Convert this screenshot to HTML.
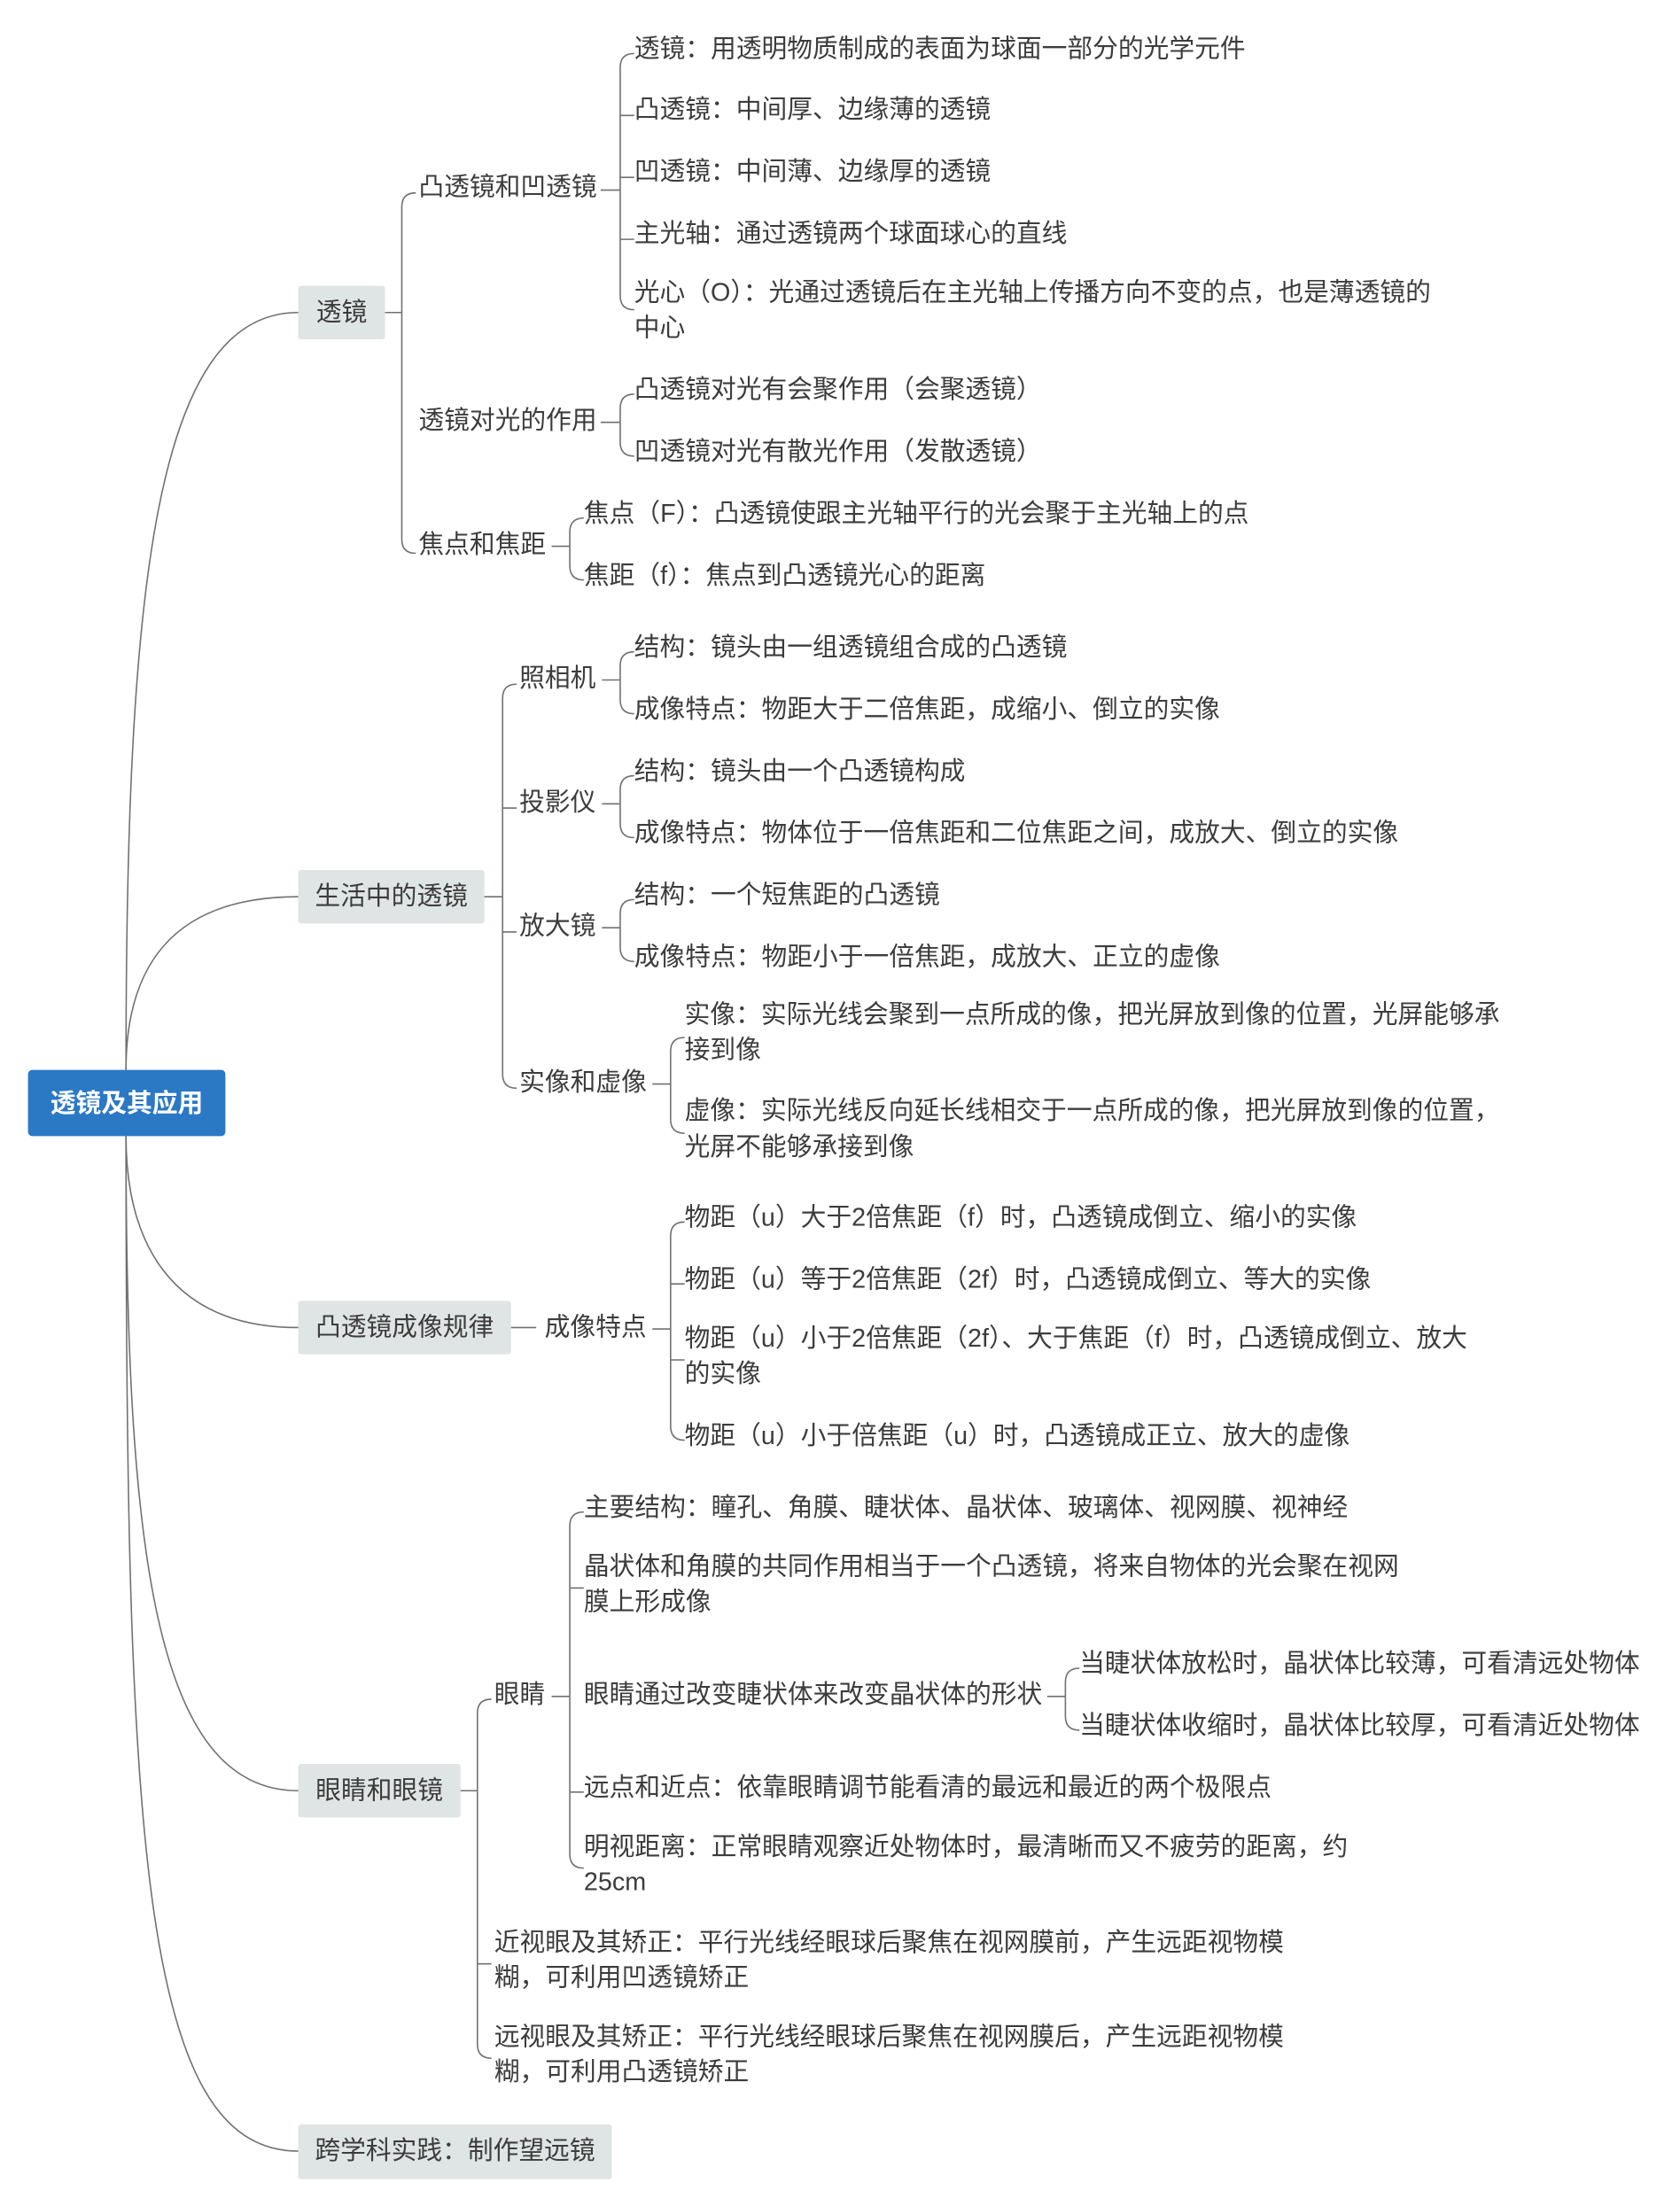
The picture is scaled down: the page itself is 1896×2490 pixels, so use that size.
<!DOCTYPE html>
<html><head><meta charset="utf-8"><style>
html,body{margin:0;padding:0;background:#fff;}
svg{display:block;}
text{font-family:"Liberation Sans","Noto Sans CJK SC",sans-serif;font-size:18.2px;fill:#3c3c3c;dominant-baseline:central;}
.l{fill:none;stroke:#707070;stroke-width:1;}
</style></head><body>
<svg width="1896" height="2490" viewBox="0 0 1200 1567" preserveAspectRatio="none" xmlns="http://www.w3.org/2000/svg">
<path class="l" d="M90,760 C90,420 110,222 213,222"/>
<path class="l" d="M90,760 C90,690 120,637 213,637"/>
<path class="l" d="M90,807 C90,880 120,943 213,943"/>
<path class="l" d="M90,807 C90,1100 110,1272 213,1272"/>
<path class="l" d="M90,807 C90,1300 100,1528 213,1528"/>

<rect x="20" y="760" width="141" height="47" rx="3" fill="#2b78c5"/>
<text x="90.5" y="784" text-anchor="middle" style="fill:#fff;font-weight:bold;font-size:18.2px">透镜及其应用</text>

<g fill="#dfe5e4">
<rect x="213" y="203" width="62" height="38" rx="2"/>
<rect x="213" y="618" width="133" height="38" rx="2"/>
<rect x="213" y="924" width="152" height="38" rx="2"/>
<rect x="213" y="1253" width="116" height="38" rx="2"/>
<rect x="213" y="1509" width="224" height="39" rx="2"/>
</g>
<text x="244" y="222" text-anchor="middle">透镜</text>
<text x="279.5" y="637" text-anchor="middle">生活中的透镜</text>
<text x="289" y="943" text-anchor="middle">凸透镜成像规律</text>
<text x="271" y="1272" text-anchor="middle">眼睛和眼镜</text>
<text x="325" y="1528" text-anchor="middle">跨学科实践：制作望远镜</text>

<path class="l" d="M275,222 H287 M297,137 Q287,137 287,147 V383 Q287,393 297,393"/>
<path class="l" d="M429,135 H443 M453,38 Q443,38 443,48 V210 Q443,220 453,220 M443,82 Q443,82 453,82 M443,126 H453 M443,170 Q443,170 453,170"/>
<path class="l" d="M429,300 H443 M453,280 Q443,280 443,290 V314 Q443,324 453,324"/>
<path class="l" d="M394,388 H407 M417,368 Q407,368 407,378 V402 Q407,412 417,412"/>
<path class="l" d="M346,637 H359 M369,486 Q359,486 359,496 V763 Q359,773 369,773 M359,574 H369 M359,662 H369"/>
<path class="l" d="M430,483 H443 M453,463 Q443,463 443,473 V497 Q443,507 453,507"/>
<path class="l" d="M430,571 H443 M453,551 Q443,551 443,561 V585 Q443,595 453,595"/>
<path class="l" d="M430,659 H443 M453,639 Q443,639 443,649 V673 Q443,683 453,683"/>
<path class="l" d="M466,770 H479 M489,737 Q479,737 479,747 V795 Q479,805 489,805"/>
<path class="l" d="M365,943 H383"/>
<path class="l" d="M466,944 H479 M489,868 Q479,868 479,878 V1013 Q479,1023 489,1023 M479,912 H489 M479,966 H489"/>
<path class="l" d="M329,1272 H341 M351,1207 Q341,1207 341,1217 V1452 Q341,1462 351,1462 M341,1395 H351"/>
<path class="l" d="M394,1205 H407 M417,1074 Q407,1074 407,1084 V1317 Q407,1327 417,1327 M407,1128 H417 M407,1273 H417"/>
<path class="l" d="M748,1205 H761 M771,1185 Q761,1185 761,1195 V1219 Q761,1229 771,1229"/>

<text x="299" y="133">凸透镜和凹透镜</text>
<text x="299" y="299">透镜对光的作用</text>
<text x="299" y="387">焦点和焦距</text>
<text x="371" y="482">照相机</text>
<text x="371" y="570">投影仪</text>
<text x="371" y="658">放大镜</text>
<text x="371" y="769">实像和虚像</text>
<text x="389" y="943">成像特点</text>
<text x="353" y="1204">眼睛</text>

<text x="453" y="35">透镜：用透明物质制成的表面为球面一部分的光学元件</text>
<text x="453" y="78">凸透镜：中间厚、边缘薄的透镜</text>
<text x="453" y="122">凹透镜：中间薄、边缘厚的透镜</text>
<text x="453" y="166">主光轴：通过透镜两个球面球心的直线</text>
<text x="453" y="208">光心（O）：光通过透镜后在主光轴上传播方向不变的点，也是薄透镜的</text>
<text x="453" y="233">中心</text>
<text x="453" y="277">凸透镜对光有会聚作用（会聚透镜）</text>
<text x="453" y="321">凹透镜对光有散光作用（发散透镜）</text>
<text x="417" y="365">焦点（F）：凸透镜使跟主光轴平行的光会聚于主光轴上的点</text>
<text x="417" y="409">焦距（f）：焦点到凸透镜光心的距离</text>

<text x="453" y="460">结构：镜头由一组透镜组合成的凸透镜</text>
<text x="453" y="504">成像特点：物距大于二倍焦距，成缩小、倒立的实像</text>
<text x="453" y="548">结构：镜头由一个凸透镜构成</text>
<text x="453" y="592">成像特点：物体位于一倍焦距和二位焦距之间，成放大、倒立的实像</text>
<text x="453" y="636">结构：一个短焦距的凸透镜</text>
<text x="453" y="680">成像特点：物距小于一倍焦距，成放大、正立的虚像</text>
<text x="489" y="721">实像：实际光线会聚到一点所成的像，把光屏放到像的位置，光屏能够承</text>
<text x="489" y="746">接到像</text>
<text x="489" y="789">虚像：实际光线反向延长线相交于一点所成的像，把光屏放到像的位置，</text>
<text x="489" y="815">光屏不能够承接到像</text>

<text x="489" y="865">物距（u）大于2倍焦距（f）时，凸透镜成倒立、缩小的实像</text>
<text x="489" y="909">物距（u）等于2倍焦距（2f）时，凸透镜成倒立、等大的实像</text>
<text x="489" y="951">物距（u）小于2倍焦距（2f）、大于焦距（f）时，凸透镜成倒立、放大</text>
<text x="489" y="976">的实像</text>
<text x="489" y="1020">物距（u）小于倍焦距（u）时，凸透镜成正立、放大的虚像</text>

<text x="417" y="1071">主要结构：瞳孔、角膜、睫状体、晶状体、玻璃体、视网膜、视神经</text>
<text x="417" y="1113">晶状体和角膜的共同作用相当于一个凸透镜，将来自物体的光会聚在视网</text>
<text x="417" y="1138">膜上形成像</text>
<text x="417" y="1204">眼睛通过改变睫状体来改变晶状体的形状</text>
<text x="771" y="1182">当睫状体放松时，晶状体比较薄，可看清远处物体</text>
<text x="771" y="1226">当睫状体收缩时，晶状体比较厚，可看清近处物体</text>
<text x="417" y="1270">远点和近点：依靠眼睛调节能看清的最远和最近的两个极限点</text>
<text x="417" y="1312">明视距离：正常眼睛观察近处物体时，最清晰而又不疲劳的距离，约</text>
<text x="417" y="1337">25cm</text>
<text x="353" y="1380">近视眼及其矫正：平行光线经眼球后聚焦在视网膜前，产生远距视物模</text>
<text x="353" y="1405">糊，可利用凹透镜矫正</text>
<text x="353" y="1447">远视眼及其矫正：平行光线经眼球后聚焦在视网膜后，产生远距视物模</text>
<text x="353" y="1472">糊，可利用凸透镜矫正</text>
</svg>
</body></html>
